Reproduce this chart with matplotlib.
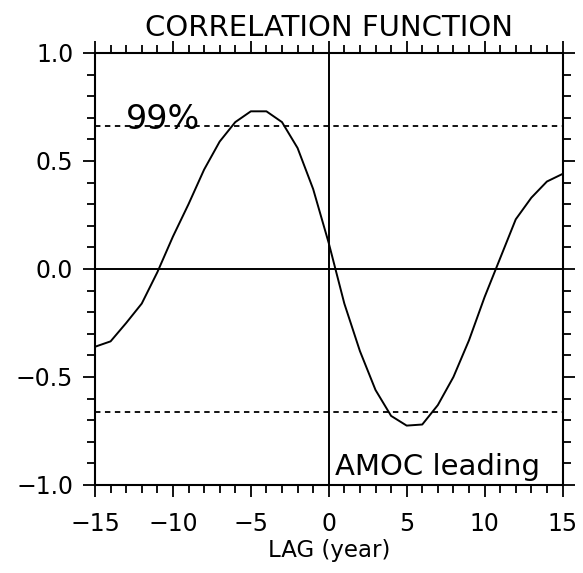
import matplotlib
matplotlib.use("Agg")
import matplotlib.pyplot as plt
from matplotlib.ticker import MultipleLocator

lags = list(range(-15, 16))
corr = [-0.36, -0.335, -0.25, -0.16, -0.015, 0.15, 0.30, 0.46, 0.59, 0.68,
        0.73, 0.73, 0.68, 0.56, 0.37, 0.12, -0.16, -0.38, -0.56, -0.68,
        -0.725, -0.72, -0.63, -0.50, -0.33, -0.13, 0.05, 0.23, 0.33, 0.405, 0.44]
sig99 = 0.66
x_ticks = [-15, -10, -5, 0, 5, 10, 15]
y_ticks = [-1.0, -0.5, 0.0, 0.5, 1.0]

fig = plt.figure(figsize=(5.83, 5.73), dpi=100)
ax = fig.add_axes([95/583, 1-485/573, (562.5-95)/583, (485-53)/573])

ax.plot(lags, corr, color="black", lw=1.4)
ax.axhline(sig99, color="black", lw=1.3, ls=(0, (3, 2.5)))
ax.axhline(-sig99, color="black", lw=1.3, ls=(0, (3, 2.5)))
ax.axhline(0, color="black", lw=1.4)
ax.axvline(0, color="black", lw=1.4)

ax.set_xlim(-15, 15)
ax.set_ylim(-1, 1)
ax.set_xticks(x_ticks)
ax.set_yticks(y_ticks)
ax.xaxis.set_minor_locator(MultipleLocator(1))
ax.yaxis.set_minor_locator(MultipleLocator(0.1))
ax.set_xticklabels(["\u221215", "\u221210", "\u22125", "0", "5", "10", "15"])
ax.set_yticklabels(["\u22121.0", "\u22120.5", "0.0", "0.5", "1.0"])
ax.tick_params(which="both", direction="out", top=True, right=True,
               labeltop=False, labelright=False, width=1.3, labelsize=17)
ax.tick_params(which="major", length=8.6)
ax.tick_params(which="minor", length=6)
ax.tick_params(axis="x", which="major", pad=11)
ax.tick_params(axis="y", which="major", pad=7)
for s in ax.spines.values():
    s.set_linewidth(1.5)

ax.set_xlabel("LAG (year)", fontsize=16.5, labelpad=2)

fig.text(329/583, 1-28/573, "CORRELATION FUNCTION", ha="center", va="center",
         fontsize=21)

ax.text(-13.0, sig99 - 0.01, "99%", fontsize=24, ha="left", va="baseline")
ax.text(0.4, -0.955, "AMOC leading", fontsize=21, ha="left", va="baseline")

fig.savefig("out.png", dpi=100)
